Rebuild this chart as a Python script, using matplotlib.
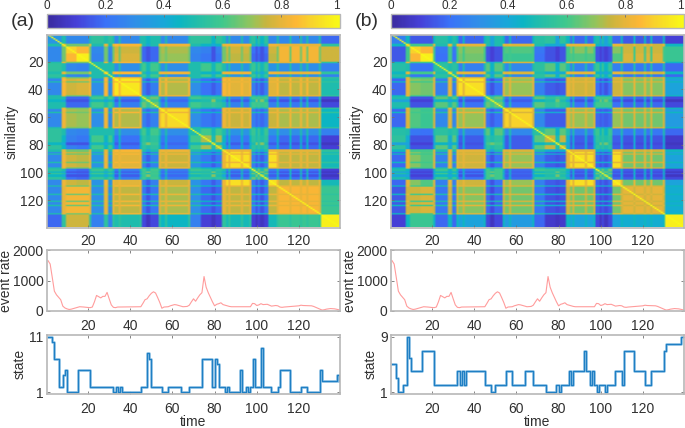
import numpy as np
import matplotlib
matplotlib.use("Agg")
import matplotlib.pyplot as plt
from matplotlib.colors import LinearSegmentedColormap

plt.rcParams["font.family"] = ["Liberation Sans", "DejaVu Sans"]

# segments along the time axis
A, Ba, Bb, C, D, E, P, F, Q, R, S, G, L, H = range(14)
band_types = [A, L, Ba, Bb, L, C, L, C, L, D, L, D, L, E, H, E, L, P, L, P, P, L, C, F, H, F, L,
              Q, L, Q, L, Q, L, R, H, R, H, R, Q, L, S, L, S, L, S, L, S, L, G]
band_sizes = [7, 2, 5, 6, 1, 6, 2, 2, 1, 2, 1, 9, 1, 2, 2, 4, 1, 2, 1, 7, 3, 1, 5, 5, 2, 3, 2,
              1, 1, 5, 1, 3, 1, 2, 1, 1, 2, 2, 4, 1, 5, 1, 4, 1, 2, 1, 5, 1, 9]

# similarity between segment types (upper triangle)
sim_a = [
    [.33, .28, .28, .55, .28, .50, .28, .55, .28, .55, .28, .18, .50, .45],
    [.90, .85, .28, .76, .18, .72, .25, .76, .20, .83, .76, .66, .14],
    [.97, .26, .78, .18, .70, .22, .74, .18, .83, .76, .66, .14],
    [.50, .30, .60, .30, .60, .32, .58, .30, .25, .50, .48],
    [.95, .24, .73, .20, .79, .24, .74, .50, .84, .16],
    [.65, .25, .55, .25, .60, .22, .12, .50, .58],
    [.92, .22, .75, .24, .72, .45, .82, .18],
    [.72, .22, .55, .18, .10, .45, .50],
    [.93, .24, .74, .48, .82, .16],
    [.65, .20, .10, .50, .50],
    [.84, .58, .80, .14],
    [.97, .55, .06],
    [.80, .40],
    [.68],
]
sim_b = [
    [.25, .15, .15, .52, .18, .50, .18, .55, .18, .50, .15, .10, .46, .38],
    [.90, .85, .22, .68, .14, .62, .14, .68, .14, .76, .58, .60, .10],
    [.97, .20, .66, .14, .58, .14, .62, .14, .78, .58, .60, .10],
    [.54, .25, .63, .28, .63, .25, .58, .22, .18, .50, .45],
    [.93, .20, .70, .16, .76, .20, .68, .38, .80, .14],
    [.65, .20, .55, .20, .60, .18, .12, .50, .60],
    [.90, .16, .70, .18, .66, .35, .78, .16],
    [.75, .16, .55, .14, .08, .42, .50],
    [.93, .18, .66, .38, .80, .14],
    [.65, .16, .12, .46, .52],
    [.80, .42, .76, .12],
    [.97, .46, .06],
    [.80, .38],
    [.66],
]

# event rate, same for both panels
rate_t = [1, 2, 3, 4, 5, 6, 7, 8, 9, 10, 11, 12, 14, 16, 18, 20, 21, 22, 23, 24, 25, 26, 27, 28, 29, 30,
          31, 32, 33, 34, 45, 46, 47, 48, 49, 50, 51, 52, 53, 54, 55, 56, 58, 59, 60, 61, 62, 63, 64, 65,
          67, 68, 69, 70, 71, 72, 73, 74, 75, 76, 77, 78, 79, 80, 81, 82, 83, 84, 85, 86, 87, 88, 97, 98,
          99, 100, 101, 102, 103, 105, 106, 107, 109, 110, 111, 112, 113, 120, 121, 122, 126, 127, 128,
          129, 130, 131, 132, 133, 135, 137, 139]
rate_v = [1650, 1540, 1100, 650, 530, 450, 370, 160, 100, 70, 50, 60, 100, 140, 130, 115, 110, 130, 300,
          510, 470, 430, 480, 480, 610, 400, 200, 120, 110, 130, 140, 250, 370, 400, 500, 580, 630, 590,
          440, 280, 90, 130, 140, 170, 190, 210, 200, 180, 160, 140, 150, 190, 300, 400, 320, 430, 530,
          600, 1130, 780, 600, 450, 300, 170, 220, 240, 270, 210, 190, 170, 150, 140, 140, 250, 240, 180,
          200, 240, 210, 220, 190, 160, 180, 170, 130, 120, 130, 170, 190, 180, 170, 150, 120, 90, 60, 30,
          40, 60, 80, 70, 40]

# state sequences: start of each level, then the level
state_t_a = [1, 3, 4, 6, 8, 9, 10, 15, 21, 32, 33, 34, 35, 36, 45, 48, 49, 50, 55, 58, 64, 68, 74, 79, 80,
             81, 82, 85, 86, 87, 92, 93, 95, 96, 97, 98, 99, 102, 103, 107, 110, 111, 116, 121, 124, 130,
             131, 138, 139]
state_a = [11, 10, 7, 2, 4, 5, 1, 5, 2, 1, 2, 1, 2, 1, 2, 8, 7, 2, 1, 2, 1, 2, 7, 2, 7,
           6, 2, 1, 2, 1, 5, 1, 2, 1, 2, 7, 2, 9, 2, 1, 2, 5, 1, 2, 1, 5,
           3, 4, 3]
state_t_b = [1, 3, 4, 6, 8, 9, 10, 15, 21, 32, 33, 34, 35, 36, 45, 48, 50, 55, 58, 64, 68, 74, 79, 80,
             81, 85, 86, 87, 92, 93, 95, 96, 97, 98, 99, 102, 103, 107, 110, 111, 116, 121, 124, 130,
             131, 138, 139]
state_b = [5, 3, 1, 2, 9, 6, 4, 7, 2, 4, 2, 4, 2, 4, 2, 1, 2, 4, 2, 4, 2, 1, 2, 1,
           2, 4, 2, 4, 7, 4, 2, 4, 2, 1, 2, 1, 2, 4, 2, 7, 4, 2, 4, 7,
           8, 9, 9]

parula = LinearSegmentedColormap.from_list("parula", [
    (0.00, "#3a2a9e"), (0.10, "#4640d8"), (0.20, "#3a72f8"), (0.30, "#2f8fe8"),
    (0.40, "#18a8d8"), (0.45, "#0cb5c4"), (0.50, "#1fbcae"), (0.60, "#40c88c"),
    (0.70, "#95c45a"), (0.75, "#c8b53e"), (0.80, "#e6b53a"), (0.85, "#fdb735"),
    (0.90, "#f8d22c"), (1.00, "#f9fb15")])

W, H_FIG = 685, 428
GREY = "#b8b8b8"
TXT = "#303030"


def build_matrix(table):
    full = np.zeros((14, 14))
    for i, row in enumerate(table):
        for k, v in enumerate(row):
            full[i, i + k] = v
            full[i + k, i] = v
    idx = np.repeat(band_types, band_sizes)
    m = full[np.ix_(idx, idx)]
    np.fill_diagonal(m, 1.0)
    return m


def px_axes(fig, left, top, right, bottom):
    return fig.add_axes([left / W, 1 - bottom / H_FIG, (right - left) / W, (bottom - top) / H_FIG])


def style(ax, xpad=6):
    for s in ax.spines.values():
        s.set_color(GREY)
        s.set_linewidth(1.2)
    ax.tick_params(direction="in", length=2, width=0.6, color="#707070", labelsize=10,
                   labelcolor=TXT, top=True, right=True)
    ax.tick_params(axis="x", pad=xpad)
    ax.tick_params(axis="y", pad=2.5)
    ax.set_xticks([20, 40, 60, 80, 100, 120])


def label(fig, x, y, s, **kw):
    fig.text(x / W, 1 - y / H_FIG, s, ha="center", va="center", color=TXT, **kw)


fig = plt.figure(figsize=(6.85, 4.28), dpi=100)

panels = [
    dict(left=47, right=340, tag="(a)", tag_x=23, table=sim_a, st=state_t_a, sv=state_a, top=11,
         ylo=0.75, yhi=11.3, xsim=12, xrate=6, xstate=20),
    dict(left=391, right=684, tag="(b)", tag_x=367, table=sim_b, st=state_t_b, sv=state_b, top=9,
         ylo=0.8, yhi=9.25, xsim=357, xrate=350, xstate=371),
]

for p in panels:
    l, r = p["left"], p["right"]
    # similarity map
    ax = px_axes(fig, l, 34.5, r, 227.5)
    im = ax.imshow(build_matrix(p["table"]), cmap=parula, vmin=0, vmax=1, aspect="auto",
                   interpolation="bilinear", extent=(0.5, 139.5, 139.5, 0.5))
    style(ax, xpad=5)
    ax.set_yticks([20, 40, 60, 80, 100, 120])
    label(fig, p["xsim"], 132, "similarity", fontsize=10, rotation=90)

    # colorbar on top
    cax = px_axes(fig, l, 14, r, 27.5)
    cb = fig.colorbar(im, cax=cax, orientation="horizontal")
    cb.set_ticks([0, 0.2, 0.4, 0.6, 0.8, 1], labels=["0", "0.2", "0.4", "0.6", "0.8", "1"])
    cax.xaxis.set_ticks_position("top")
    cax.tick_params(direction="in", length=2, width=0.6, color="#707070", labelsize=8.5,
                    labelcolor=TXT, pad=1.5)
    cax.get_xticklabels()[-1].set_ha("right")
    cb.outline.set_edgecolor(GREY)
    cb.outline.set_linewidth(1.0)
    label(fig, p["tag_x"], 21, p["tag"], fontsize=14)

    # event rate
    ax = px_axes(fig, l, 250, r, 311)
    ax.plot(rate_t, rate_v, color="#ff9c9c", lw=0.8)
    ax.set_xlim(0.5, 139.5)
    ax.set_ylim(0, 2000)
    ax.set_yticks([0, 1000, 2000])
    style(ax)
    label(fig, p["xrate"], 281, "event rate", fontsize=10, rotation=90)

    # state, with a pale line under it for the soft edge of the original
    ax = px_axes(fig, l, 335, r, 393.5)
    ax.step(p["st"], p["sv"], where="post", color="#a9d2ec", lw=2.0)
    ax.step(p["st"], p["sv"], where="post", color="#1f7fc4", lw=1.0)
    ax.set_xlim(0.5, 139.5)
    ax.set_ylim(p["ylo"], p["yhi"])
    ax.set_yticks([1, p["top"]])
    style(ax)
    label(fig, p["xstate"], 364, "state", fontsize=10, rotation=90)
    label(fig, (l + r) / 2, 421.5, "time", fontsize=10)

fig.savefig("out.png", dpi=100)
